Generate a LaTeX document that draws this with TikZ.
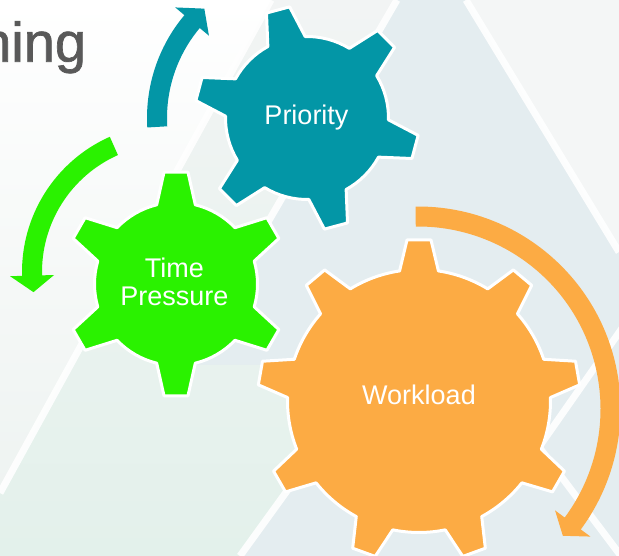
\documentclass[tikz,border=0pt]{standalone}
\usepackage{fontspec}
\setmainfont{Liberation Sans}
\newfontfamily\headfont[FakeBold=1.2]{Liberation Sans}
\usepackage{tikz}

\definecolor{gearteal}{HTML}{0396A6}
\definecolor{geargreen}{HTML}{2AF200}
\definecolor{gearorange}{HTML}{FCAB44}
\definecolor{titlegrey}{HTML}{595959}
\definecolor{bgblue}{HTML}{E4EDF0}
\definecolor{bggreen}{HTML}{E3F1EB}
\definecolor{bgmist}{HTML}{F2F4F4}
\definecolor{bggrey}{HTML}{F4F6F6}
\definecolor{bgpale}{HTML}{EEF3F1}

\tikzset{
  gearline/.style={draw=white, line width=3pt, line join=round},
  geartext/.style={text=white, font=\fontsize{27}{28.7}\selectfont, align=center, inner sep=0pt},
  stripe/.style={white, line width=7pt, opacity=.9},
}

% gear: centre, teeth, body radius, tip radius, first tooth angle, colour
\newcommand{\gear}[6]{%
  \pgfmathsetmacro{\gstep}{360/#2}%
  \pgfmathsetmacro{\gbase}{deg(19.5/#3)}%
  \pgfmathsetmacro{\gtip}{deg(12/#4)}%
  \filldraw[gearline, fill=#6, shift={#1}] (#5-\gbase:#3)
    \foreach \k [evaluate=\k as \a using #5+(\k-1)*\gstep] in {1,...,#2} {
      -- (\a-\gbase:#3) -- (\a-\gtip:#4) -- (\a+\gtip:#4) -- (\a+\gbase:#3)
      arc[start angle=\a+\gbase, end angle=\a+\gstep-\gbase, radius=#3]
    } -- cycle;
}

% curved arrow round a gear: centre, radius, tail angle, head angle, tip angle, colour
\newcommand{\cyclearrow}[6]{%
  \pgfmathsetmacro{\arcout}{#2+10}\pgfmathsetmacro{\arcin}{#2-10}%
  \pgfmathsetmacro{\barbout}{#2+22}\pgfmathsetmacro{\barbin}{#2-22}%
  \fill[#6, shift={#1}] (#3:\arcout) arc[start angle=#3, end angle=#4, radius=\arcout]
    -- (#4:\barbout) -- (#5:#2) -- (#4:\barbin) -- (#4:\arcin)
    arc[start angle=#4, end angle=#3, radius=\arcin] -- cycle;
}

\begin{document}
\begin{tikzpicture}[x=1pt, y=1pt]
  \useasboundingbox (0,0) rectangle (619,556);
  \clip (0,0) rectangle (619,556);

  % background facets
  \fill[bgblue] (0,0) rectangle (619,556);
  \fill[bggrey] (466,556) -- (619,556) -- (619,304) -- cycle;
  \shade[top color=bgmist, bottom color=bggreen]
    (271,556) -- (397,556) -- (185,191) -- (378,191) -- (240,0) -- (0,0) -- (0,63) -- cycle;
  \shade[top color=white, bottom color=bgpale] (0,556) -- (271,556) -- (0,63) -- cycle;
  \draw[stripe] (271,556) -- (0,63);
  \draw[stripe] (397,556) -- (185,191);
  \draw[stripe] (466,556) -- (619,304);
  \draw[stripe] (378,191) -- (240,0);
  \draw[stripe] (625,232) -- (539,109) -- (621,0);

  \node[anchor=base west, inner sep=0pt, text=titlegrey, font=\headfont\fontsize{56}{60}\selectfont] (heading) at (-20,494.3) {hing};

  % arrows
  \cyclearrow{(307,438)}{150}{183.4}{140}{133.2}{gearteal}
  \cyclearrow{(170,284)}{138}{114}{181.5}{188.4}{geargreen}
  \cyclearrow{(418,147)}{192.5}{90.7}{-36.5}{-41.2}{gearorange}

  % gears
  \gear{(307,438)}{6}{81.5}{112.5}{45}{gearteal}
  \gear{(176,272)}{6}{81.5}{112.5}{30}{geargreen}
  \gear{(419,155)}{9}{131.5}{161.5}{10}{gearorange}

  \node[geartext] (priority) at (306.5,438) {Priority};
  \node[geartext] (time) at (174.3,274) {Time\\Pressure};
  \node[geartext] (workload) at (419,161) {Workload};
\end{tikzpicture}
\end{document}
